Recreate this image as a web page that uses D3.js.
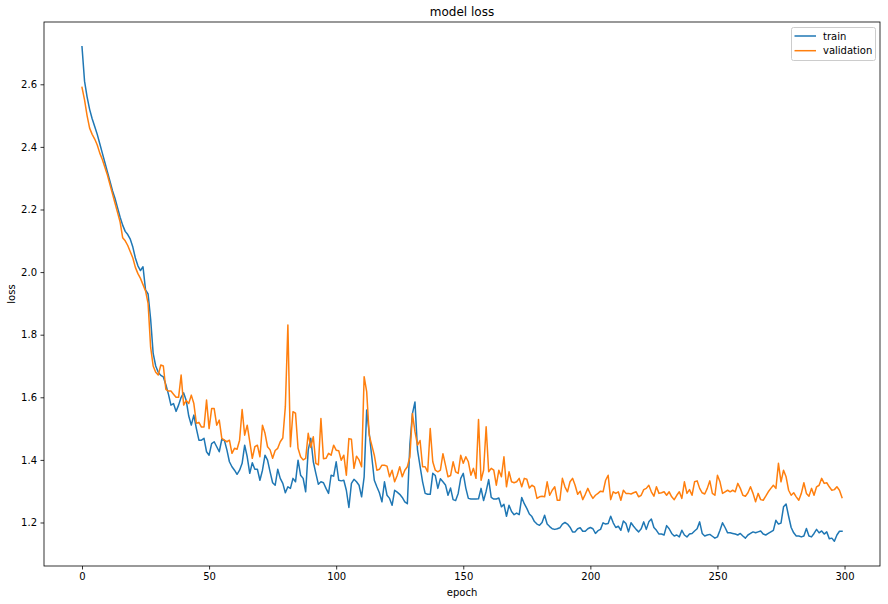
<!DOCTYPE html>
<html><head><meta charset="utf-8">
<script src="https://cdn.jsdelivr.net/npm/d3@7"></script>
<style>body{margin:0;background:#fff}svg{display:block}text{font-family:"DejaVu Sans",sans-serif;fill:#000}</style>
</head><body>
<svg id="c" width="888" height="604"></svg>
<script>
const title = "model loss";
const xLabel = "epoch";
const yLabel = "loss";
const seriesNames = ["train", "validation"];
const seriesColors = ["#1f77b4", "#ff7f0e"];
const xTicks = [0, 50, 100, 150, 200, 250, 300];
const yTicks = [1.2, 1.4, 1.6, 1.8, 2.0, 2.2, 2.4, 2.6];

const train = [
2.72,2.61,2.56,2.52,2.49,2.465,2.44,2.41,2.38,2.35,
2.32,2.29,2.26,2.235,2.205,2.175,2.15,2.13,2.12,2.105,
2.08,2.045,2.02,2.005,2.017,1.943,1.93,1.85,1.74,1.70,
1.68,1.67,1.665,1.64,1.61,1.575,1.58,1.555,1.575,1.60,
1.614,1.59,1.54,1.511,1.543,1.50,1.463,1.463,1.469,1.426,
1.415,1.452,1.458,1.442,1.426,1.466,1.463,1.432,1.394,1.378,
1.367,1.354,1.367,1.389,1.447,1.41,1.357,1.391,1.37,1.37,
1.335,1.367,1.415,1.399,1.362,1.327,1.319,1.37,1.341,1.325,
1.295,1.314,1.309,1.341,1.33,1.399,1.351,1.341,1.298,1.432,
1.469,1.394,1.357,1.322,1.33,1.327,1.309,1.293,1.351,1.348,
1.394,1.335,1.333,1.335,1.303,1.248,1.325,1.338,1.33,1.319,
1.282,1.346,1.559,1.485,1.41,1.335,1.314,1.295,1.266,1.33,
1.287,1.277,1.255,1.303,1.297,1.29,1.28,1.266,1.26,1.45,
1.548,1.585,1.431,1.38,1.33,1.293,1.29,1.29,1.357,1.35,
1.309,1.34,1.33,1.32,1.287,1.31,1.273,1.27,1.293,1.341,
1.357,1.31,1.277,1.275,1.275,1.275,1.276,1.309,1.27,1.30,
1.337,1.28,1.275,1.275,1.278,1.25,1.258,1.22,1.255,1.235,
1.225,1.23,1.225,1.28,1.26,1.245,1.227,1.219,1.203,1.195,
1.191,1.20,1.223,1.195,1.187,1.18,1.178,1.18,1.183,1.195,
1.20,1.195,1.185,1.17,1.17,1.18,1.183,1.172,1.172,1.18,
1.184,1.18,1.165,1.174,1.178,1.199,1.195,1.197,1.22,1.199,
1.184,1.188,1.175,1.205,1.197,1.17,1.199,1.188,1.178,1.17,
1.18,1.202,1.178,1.202,1.211,1.184,1.175,1.163,1.163,1.16,
1.19,1.18,1.165,1.157,1.16,1.154,1.175,1.16,1.154,1.163,
1.165,1.173,1.18,1.202,1.165,1.157,1.16,1.162,1.156,1.15,
1.154,1.175,1.199,1.184,1.167,1.167,1.165,1.163,1.16,1.165,
1.157,1.15,1.16,1.165,1.17,1.167,1.17,1.173,1.163,1.16,
1.165,1.17,1.175,1.207,1.195,1.198,1.25,1.259,1.22,1.184,
1.167,1.157,1.157,1.154,1.157,1.181,1.157,1.154,1.165,1.178,
1.167,1.173,1.163,1.17,1.148,1.15,1.14,1.16,1.172,1.172
];

const validation = [
2.59,2.55,2.50,2.46,2.44,2.425,2.406,2.38,2.36,2.335,
2.31,2.28,2.25,2.22,2.19,2.16,2.11,2.10,2.085,2.065,
2.045,2.015,1.995,1.98,1.96,1.94,1.90,1.76,1.70,1.68,
1.671,1.703,1.70,1.625,1.62,1.62,1.61,1.60,1.60,1.671,
1.575,1.59,1.58,1.607,1.58,1.517,1.52,1.505,1.505,1.591,
1.50,1.564,1.564,1.511,1.527,1.469,1.463,1.458,1.463,1.421,
1.437,1.434,1.463,1.561,1.479,1.511,1.458,1.405,1.442,1.447,
1.41,1.511,1.485,1.442,1.432,1.405,1.43,1.437,1.458,1.47,
1.57,1.831,1.442,1.554,1.549,1.437,1.41,1.40,1.405,1.485,
1.44,1.474,1.389,1.384,1.532,1.404,1.405,1.421,1.415,1.447,
1.431,1.429,1.399,1.415,1.351,1.468,1.466,1.373,1.412,1.40,
1.378,1.666,1.618,1.479,1.447,1.415,1.367,1.37,1.383,1.383,
1.38,1.346,1.367,1.33,1.35,1.378,1.346,1.367,1.378,1.41,
1.548,1.49,1.447,1.462,1.378,1.378,1.362,1.50,1.394,1.367,
1.362,1.367,1.42,1.383,1.346,1.35,1.394,1.362,1.357,1.415,
1.389,1.41,1.394,1.351,1.373,1.341,1.529,1.335,1.367,1.506,
1.362,1.373,1.367,1.319,1.367,1.346,1.41,1.314,1.362,1.33,
1.327,1.33,1.341,1.314,1.341,1.338,1.31,1.319,1.314,1.277,
1.282,1.284,1.282,1.33,1.287,1.303,1.314,1.271,1.271,1.341,
1.314,1.298,1.33,1.341,1.319,1.29,1.30,1.273,1.29,1.309,
1.291,1.277,1.287,1.293,1.30,1.298,1.335,1.351,1.273,1.298,
1.293,1.298,1.271,1.303,1.293,1.293,1.291,1.295,1.298,1.282,
1.287,1.305,1.309,1.319,1.298,1.284,1.314,1.293,1.295,1.298,
1.287,1.298,1.282,1.273,1.287,1.298,1.277,1.33,1.293,1.305,
1.287,1.33,1.333,1.309,1.295,1.291,1.309,1.333,1.293,1.287,
1.351,1.33,1.293,1.298,1.303,1.298,1.303,1.298,1.325,1.309,
1.287,1.284,1.295,1.314,1.293,1.266,1.293,1.273,1.271,1.284,
1.298,1.309,1.319,1.309,1.389,1.33,1.367,1.346,1.303,1.287,
1.295,1.282,1.271,1.293,1.327,1.293,1.284,1.309,1.287,1.314,
1.319,1.341,1.325,1.327,1.314,1.303,1.305,1.314,1.303,1.28
];

const svg = d3.select("#c");
const m = {l: 44, r: 880, t: 22, b: 566};
const allSeries = [train, validation];
const n = train.length;
const yMin = d3.min(allSeries.flat()), yMax = d3.max(allSeries.flat());
const xPad = (n - 1) * 0.05, yPad = (yMax - yMin) * 0.05;
const x = d3.scaleLinear().domain([-xPad, n - 1 + xPad]).range([m.l, m.r]);
const y = d3.scaleLinear().domain([yMin - yPad, yMax + yPad]).range([m.b, m.t]);

// axes
const xAxis = d3.axisBottom(x).tickValues(xTicks).tickSize(3.5).tickPadding(3.5).tickFormat(d3.format("d"));
const yAxis = d3.axisLeft(y).tickValues(yTicks).tickSize(3.5).tickPadding(3.5).tickFormat(d3.format(".1f"));
const gx = svg.append("g").attr("transform", `translate(0,${m.b})`).call(xAxis);
const gy = svg.append("g").attr("transform", `translate(${m.l},0)`).call(yAxis);
[gx, gy].forEach(g => {
  g.select(".domain").remove();
  g.selectAll(".tick line").attr("stroke", "#000").attr("stroke-width", 0.8);
  g.selectAll(".tick text").attr("font-size", 10).attr("font-family", "DejaVu Sans").attr("fill", "#000");
});

const clip = svg.append("clipPath").attr("id", "clp").append("rect")
  .attr("x", m.l).attr("y", m.t).attr("width", m.r - m.l).attr("height", m.b - m.t);

const line = d3.line().x((d, i) => x(i)).y(d => y(d));
allSeries.forEach((s, k) => {
  svg.append("path").datum(s).attr("d", line).attr("fill", "none")
    .attr("stroke", seriesColors[k]).attr("stroke-width", 1.5)
    .attr("stroke-linejoin", "round").attr("stroke-linecap", "square")
    .attr("clip-path", "url(#clp)");
});

// frame
svg.append("rect").attr("x", m.l).attr("y", m.t).attr("width", m.r - m.l).attr("height", m.b - m.t)
  .attr("fill", "none").attr("stroke", "#000").attr("stroke-width", 0.8);

// title & labels
svg.append("text").attr("x", (m.l + m.r) / 2).attr("y", 16).attr("text-anchor", "middle").attr("font-size", 12).text(title);
svg.append("text").attr("x", (m.l + m.r) / 2).attr("y", 596).attr("text-anchor", "middle").attr("font-size", 10).text(xLabel);
svg.append("text").attr("transform", `translate(15,${(m.t + m.b) / 2}) rotate(-90)`).attr("text-anchor", "middle").attr("font-size", 10).text(yLabel);

// legend
const lg = svg.append("g");
lg.append("rect").attr("x", 791.5).attr("y", 27.5).attr("width", 84).attr("height", 33).attr("rx", 2)
  .attr("fill", "#fff").attr("fill-opacity", 0.8).attr("stroke", "#ccc").attr("stroke-width", 1);
seriesNames.forEach((name, k) => {
  const yy = 36 + k * 14.7;
  lg.append("line").attr("x1", 794.5).attr("x2", 816).attr("y1", yy).attr("y2", yy)
    .attr("stroke", seriesColors[k]).attr("stroke-width", 1.5);
  lg.append("text").attr("x", 823).attr("y", yy + 3.6).attr("font-size", 10).text(name);
});
</script>
</body></html>
